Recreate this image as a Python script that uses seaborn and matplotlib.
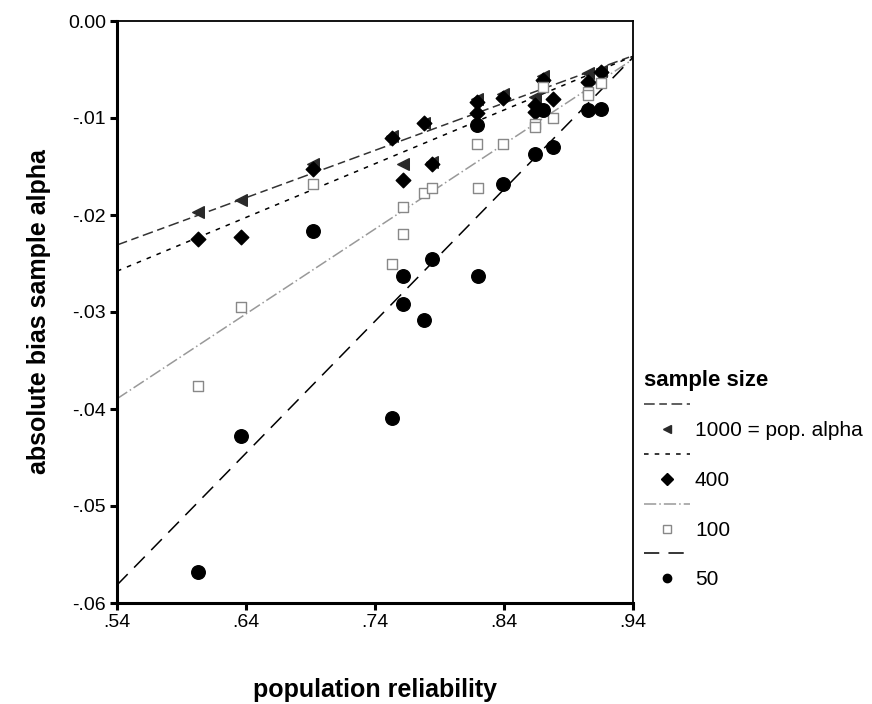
import matplotlib
matplotlib.use("Agg")
import matplotlib.pyplot as plt
from matplotlib.lines import Line2D
import seaborn as sns
import numpy as np

# ---- data ----
rel_1000 = [.603, .636, .692, .753, .762, .778, .784, .819, .839, .864, .870, .905, .915]
bias_1000 = [-.0197, -.0185, -.0147, -.0119, -.0147, -.0105, -.0145, -.0080, -.0075, -.0078, -.0057, -.0054, -.0052]

rel_400 = [.603, .636, .692, .753, .762, .778, .784, .819, .819, .839, .864, .864, .870, .878, .905, .915]
bias_400 = [-.0225, -.0223, -.0153, -.0121, -.0164, -.0105, -.0147, -.0083, -.0095, -.0079, -.0087, -.0094, -.0061, -.0080, -.0063, -.0053]

rel_100 = [.603, .636, .692, .753, .762, .762, .778, .784, .819, .820, .839, .864, .864, .870, .878, .905, .905, .915]
bias_100 = [-.0376, -.0295, -.0168, -.0250, -.0192, -.0220, -.0177, -.0172, -.0127, -.0172, -.0127, -.0106, -.0109, -.0068, -.0100, -.0073, -.0076, -.0064]

rel_50 = [.603, .636, .692, .753, .762, .762, .778, .784, .819, .820, .839, .864, .870, .878, .905, .915]
bias_50 = [-.0568, -.0428, -.0216, -.0409, -.0263, -.0292, -.0308, -.0245, -.0107, -.0263, -.0168, -.0137, -.0092, -.0130, -.0092, -.0091]

series_labels = ["1000 = pop. alpha", "400", "100", "50"]
x_ticks = [.54, .64, .74, .84, .94]
x_ticklabels = [".54", ".64", ".74", ".84", ".94"]
y_ticks = [0.0, -.01, -.02, -.03, -.04, -.05, -.06]
y_ticklabels = ["0.00", "-.01", "-.02", "-.03", "-.04", "-.05", "-.06"]

sns.set_style("ticks")
plt.rcParams["font.family"] = ["Liberation Sans", "DejaVu Sans"]
plt.rcParams["text.color"] = "black"
plt.rcParams["axes.labelcolor"] = "black"

fig = plt.figure(figsize=(8.72, 7.04), dpi=100)
ax = fig.add_axes([117 / 872, 1 - 603 / 704, (633 - 117) / 872, (603 - 21) / 704])
ax.set_xlim(.54, .94)
ax.set_ylim(-.06, 0.0)

styles = [
    dict(marker="<", color="#2a2a2a", fc="#2a2a2a", ec="#2a2a2a", s=70, lc="#333333", ls=(0, (7, 3, 5, 3))),
    dict(marker="D", color="black", fc="black", ec="black", s=55, lc="black", ls=(0, (3, 4))),
    dict(marker="s", color="#888888", fc="white", ec="#888888", s=45, lc="#999999", ls=(0, (8, 2, 1, 2))),
    dict(marker="o", color="black", fc="black", ec="black", s=95, lc="black", ls=(0, (10, 6))),
]
data = [(rel_1000, bias_1000), (rel_400, bias_400), (rel_100, bias_100), (rel_50, bias_50)]

for (xs, ys), st in zip(data, styles):
    sns.regplot(x=np.array(xs), y=np.array(ys), ax=ax, ci=None, truncate=False,
                marker=st["marker"], color=st["color"],
                scatter_kws=dict(s=st["s"], facecolors=st["fc"], edgecolors=st["ec"],
                                 linewidths=1.0, alpha=1, zorder=3),
                line_kws=dict(color=st["lc"], lw=1.1, linestyle=st["ls"], zorder=2))

ax.set_xlim(.54, .94)
ax.set_ylim(-.06, 0.0)
ax.set_xticks(x_ticks)
ax.set_xticklabels(x_ticklabels)
ax.set_yticks(y_ticks)
ax.set_yticklabels(y_ticklabels)
ax.tick_params(axis="both", direction="out", length=5, width=2.2, labelsize=14,
               colors="black", labelcolor="black", pad=3)
for sp in ax.spines.values():
    sp.set_visible(True)
    sp.set_color("black")
    sp.set_linewidth(1.3)
ax.spines["left"].set_linewidth(2.2)
ax.spines["bottom"].set_linewidth(2.2)

ax.set_xlabel("population reliability", fontsize=18, fontweight="bold", labelpad=34, color="black")
ax.set_ylabel("absolute bias sample alpha", fontsize=18, fontweight="bold", labelpad=12, color="black")

handles, labels = [], []
for st, lab in zip(styles, series_labels):
    handles.append(Line2D([], [], color=st["lc"], lw=1.1, linestyle=st["ls"]))
    labels.append("")
    handles.append(Line2D([], [], marker=st["marker"], linestyle="none",
                          markerfacecolor=st["fc"], markeredgecolor=st["ec"],
                          markersize=6))
    labels.append(lab)

leg = ax.legend(handles, labels, loc="upper left", bbox_to_anchor=(1.005, 0.415),
                frameon=False, title="sample size", fontsize=15,
                handlelength=2.2, handletextpad=0.25, labelspacing=0.28,
                borderaxespad=0.0)
leg.get_title().set_fontsize(16)
leg.get_title().set_fontweight("bold")
leg.get_title().set_color("black")
for t in leg.get_texts():
    t.set_color("black")
leg._legend_box.align = "left"

fig.savefig("out.png", dpi=100)
